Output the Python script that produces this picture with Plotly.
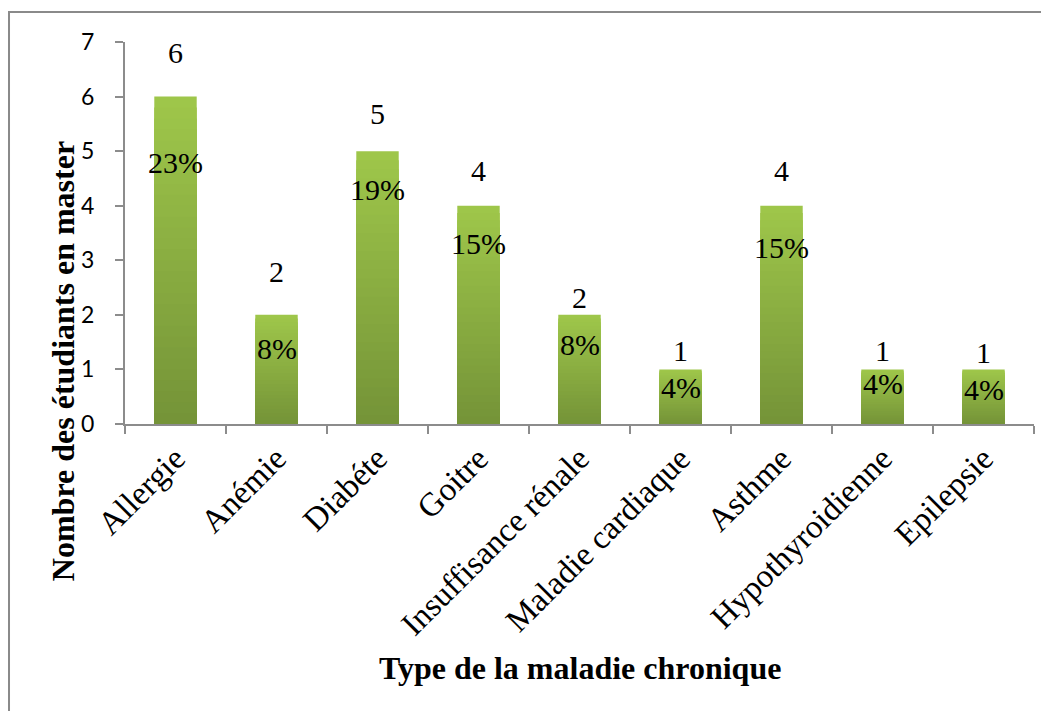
import plotly.graph_objects as go

categories = ["Allergie", "Anémie", "Diabéte", "Goitre", "Insuffisance rénale",
              "Maladie cardiaque", "Asthme", "Hypothyroidienne", "Epilepsie"]
counts = [6, 2, 5, 4, 2, 1, 4, 1, 1]
percent_labels = ["23%", "8%", "19%", "15%", "8%", "4%", "15%", "4%", "4%"]
y_ticks = [0, 1, 2, 3, 4, 5, 6, 7]

# styling (pixel offsets of the data labels)
count_shift = [44, 43, 38, 35, 17, 19, 35, 19, 17]
pct_shift = [-66, -34, -38, -38, -30, -18, -42, -14, -20]

FONT = "Liberation Serif, Times New Roman, serif"
SANS = "Lato, Carlito, Calibri, sans-serif"
top_rgb = (158, 198, 74)
bot_rgb = (117, 148, 56)
N = 30

fig = go.Figure()
# vertical gradient by overlaying progressively shorter, darker bars
for k in range(N, 0, -1):
    f = k / N
    t = (k - 1) / (N - 1)
    c = tuple(round(bot_rgb[i] + (top_rgb[i] - bot_rgb[i]) * t) for i in range(3))
    fig.add_trace(go.Bar(
        x=categories, y=[v * f for v in counts], width=0.42,
        marker=dict(color="rgb(%d,%d,%d)" % c, line=dict(width=0)),
        showlegend=False, hoverinfo="skip"))

annotations = []
for cat, v, p, cs, ps in zip(categories, counts, percent_labels, count_shift, pct_shift):
    annotations.append(dict(x=cat, y=v, text=str(v), showarrow=False, yshift=cs,
                            font=dict(family=FONT, size=30, color="black")))
    annotations.append(dict(x=cat, y=v, text=p, showarrow=False, yshift=ps,
                            font=dict(family=FONT, size=30, color="black")))

annotations.append(dict(xref="paper", yref="paper", x=-0.068, y=0.165,
                        text="<b>Nombre des étudiants en master</b>", textangle=-90,
                        showarrow=False, xanchor="center", yanchor="middle",
                        font=dict(family=FONT, size=32, color="black")))
annotations.append(dict(xref="paper", yref="paper", x=0.5, y=-0.639,
                        text="<b>Type de la maladie chronique</b>",
                        showarrow=False, xanchor="center", yanchor="middle",
                        font=dict(family=FONT, size=32, color="black")))

fig.update_layout(
    width=1041, height=703,
    margin=dict(l=117, r=15, t=34, b=287),
    paper_bgcolor="white", plot_bgcolor="white",
    barmode="overlay", bargap=0.58,
    annotations=annotations,
    shapes=[dict(type="rect", xref="paper", yref="paper",
                 x0=-0.1276, x1=1.2, y0=-1.2, y1=1.0785,
                 line=dict(color="#8a8a8a", width=2), fillcolor="rgba(0,0,0,0)", layer="below")],
    font=dict(family=FONT, color="black"),
)
fig.update_xaxes(
    type="category", showline=True, linecolor="#8c8c8c", linewidth=2,
    ticks="outside", tickson="boundaries", ticklen=8, tickcolor="#8c8c8c", tickwidth=2,
    tickangle=-45, tickfont=dict(family=FONT, size=33, color="black"),
    showgrid=False, zeroline=False)
fig.update_yaxes(
    range=[0, 7], tickvals=y_ticks, showline=True, linecolor="#8c8c8c", linewidth=2,
    ticks="outside", ticklen=8, tickcolor="#8c8c8c", tickwidth=2,
    ticklabelstandoff=16,
    tickfont=dict(family=SANS, size=23, color="black"),
    showgrid=False, zeroline=False)

fig.write_html("out.html")
